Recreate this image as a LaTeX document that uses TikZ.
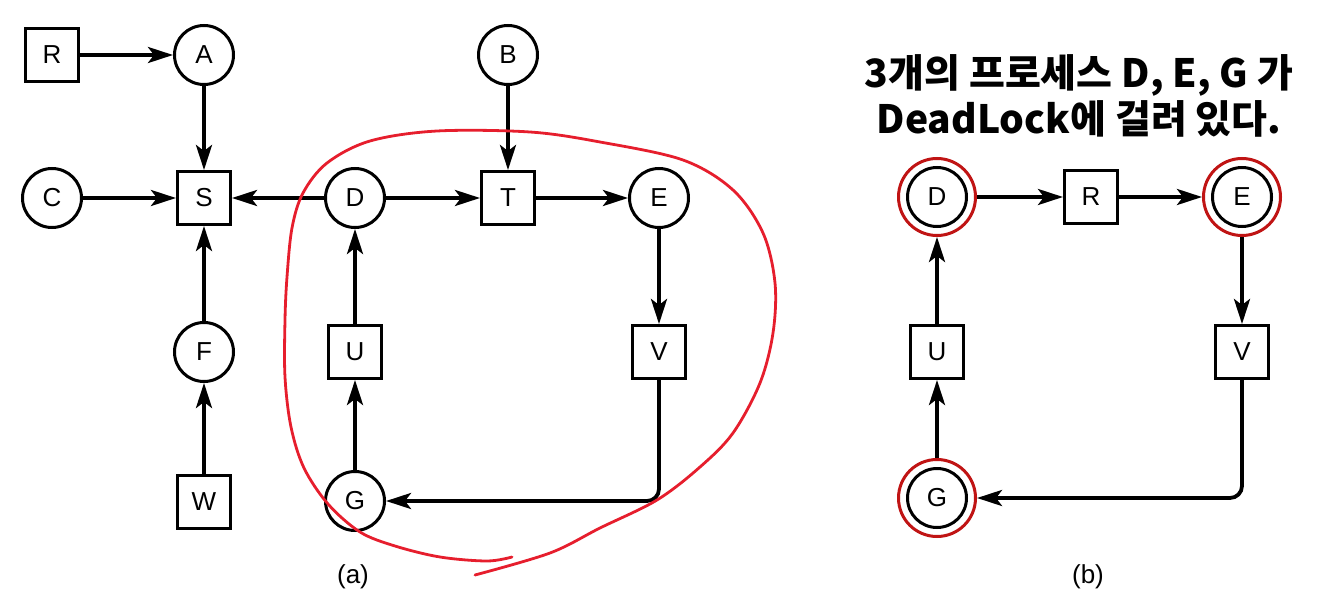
\documentclass[tikz,border=0pt]{standalone}
\usepackage{fontspec}
\setmainfont{Liberation Sans}
\newfontfamily\kr{Noto Sans CJK KR}
\usetikzlibrary{arrows.meta}
\definecolor{loopred}{RGB}{230,30,45}
\definecolor{ringred}{RGB}{192,20,20}
\begin{document}
\begin{tikzpicture}[x=1pt,y=-1pt,
  every node/.style={font=\fontsize{26}{31}\selectfont, inner sep=0pt},
  proc/.style={circle, draw, line width=3pt, minimum size=59pt},
  res/.style={rectangle, draw, line width=3pt, minimum size=53pt},
  ring/.style={circle, draw=ringred, line width=3pt, minimum size=77pt},
  conn/.style={line width=3.8pt, -{Stealth[length=25pt,width=16pt,inset=6pt]}},
  freehand/.style={draw=loopred, line width=2.8pt, line cap=round},
  caption/.style={font=\fontsize{26}{31}\selectfont}]
\useasboundingbox (0,0) rectangle (1326,615);
% ---- (a) ----
\node[res]  (R) at (52,55)  {R};
\node[proc] (A) at (204,55) {A};
\node[proc] (B) at (508,55) {B};
\node[proc] (C) at (52,198) {C};
\node[res]  (S) at (204,198) {S};
\node[proc] (D) at (355,198) {D};
\node[res]  (T) at (508,198) {T};
\node[proc] (E) at (659,198) {E};
\node[proc] (F) at (204,352) {F};
\node[res]  (U) at (355,352) {U};
\node[res]  (V) at (659,352) {V};
\node[res]  (W) at (204,502) {W};
\node[proc] (G) at (355,501) {G};
\draw[conn] (R) -- (A);
\draw[conn] (A) -- (S);
\draw[conn] (C) -- (S);
\draw[conn] (D) -- (S);
\draw[conn] (F) -- (S);
\draw[conn] (W) -- (F);
\draw[conn] (B) -- (T);
\draw[conn] (D) -- (T);
\draw[conn] (T) -- (E);
\draw[conn] (E) -- (V);
\draw[conn, rounded corners=12pt] (V.south) |- (G.east);
\draw[conn] (G) -- (U);
\draw[conn] (U) -- (D);
\draw[freehand] plot[smooth, tension=0.55] coordinates {
 (512,557) (487,561) (440,557) (395,546) (360,532) (328,504) (304,468)
 (291,427) (285,377) (285,320) (287,277) (292,228) (303,193) (327,163)
 (370,141) (437,131) (530,132) (600,142) (683,160) (733,190) (763,233)
 (775,283) (773,333) (760,383) (733,433) (700,467) (657,500) (600,528)
 (550,553) (475,575)};
\node[caption] (capa) at (353,577) {(a)};
% ---- (b) ----
\node[ring] (bD) at (937,197) {};
\node[proc] (bDi) at (937,197) {D};
\node[res]  (bR) at (1091,197) {R};
\node[ring] (bE) at (1242,197) {};
\node[proc] (bEi) at (1242,197) {E};
\node[res]  (bU) at (937,352) {U};
\node[res]  (bV) at (1242,352) {V};
\node[ring] (bG) at (937,498) {};
\node[proc] (bGi) at (937,498) {G};
\draw[conn] (bD) -- (bR);
\draw[conn] (bR) -- (bE);
\draw[conn] (bE) -- (bV);
\draw[conn, rounded corners=12pt] (bV.south) |- (bG.east);
\draw[conn] (bG) -- (bU);
\draw[conn] (bU) -- (bD);
\node[caption] (capb) at (1088,577) {(b)};
\node[font=\kr\bfseries\fontsize{39}{46}\selectfont, align=center, anchor=base] (title) at (1079,134) {3개의 프로세스 D, E, G 가\\DeadLock에 걸려 있다.};
\end{tikzpicture}
\end{document}
